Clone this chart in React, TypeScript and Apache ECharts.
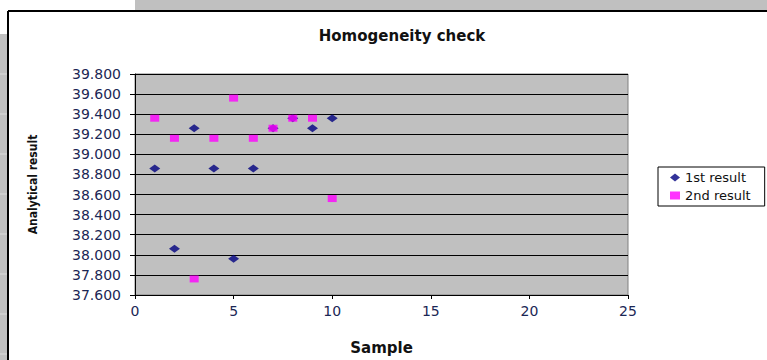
import React, { useEffect, useRef } from "react";
import * as echarts from "echarts";

// Sample numbers 1..10 and the two replicate results for each
const samples = [1, 2, 3, 4, 5, 6, 7, 8, 9, 10];
const firstResult = [38.86, 38.06, 39.26, 38.86, 37.96, 38.86, 39.26, 39.36, 39.26, 39.36];
const secondResult = [39.36, 39.16, 37.76, 39.16, 39.56, 39.16, 39.26, 39.36, 39.36, 38.56];

const seriesNames = ["1st result", "2nd result"];
const titleText = "Homogeneity check";
const xAxisName = "Sample";
const yAxisName = "Analytical result";

// Spreadsheet row lines visible along the left margin
const sheetRowLines = [74, 114, 154, 194, 234, 274, 314, 354];

const labelColor = "#1b2755";
const font = "DejaVu Sans";

export default function App() {
  const ref = useRef<HTMLDivElement>(null);

  useEffect(() => {
    if (!ref.current) return;
    const chart = echarts.init(ref.current, null, { renderer: "svg" });

    const pairs = (ys: number[]) => samples.map((s, i) => [s, ys[i]]);

    const background: any[] = [
      { type: "rect", z: -10, shape: { x: 135, y: 0, width: 632, height: 11 }, style: { fill: "#c0c0c0" } },
      { type: "rect", z: -10, shape: { x: 0, y: 34, width: 7, height: 326 }, style: { fill: "#c0c0c0" } },
      ...sheetRowLines.map((y) => ({
        type: "line",
        z: -9,
        shape: { x1: 0, y1: y, x2: 7, y2: y },
        style: { stroke: "#dcdcdc", lineWidth: 1 },
      })),
      { type: "line", z: 5, shape: { x1: 8, y1: 11, x2: 767, y2: 11 }, style: { stroke: "#000", lineWidth: 2 } },
      { type: "line", z: 5, shape: { x1: 8, y1: 11, x2: 8, y2: 360 }, style: { stroke: "#000", lineWidth: 2 } },
    ];

    chart.setOption({
      animation: false,
      backgroundColor: "#ffffff",
      title: {
        text: titleText,
        left: 397,
        top: 23,
        textAlign: "center",
        textStyle: { fontFamily: font, fontSize: 15, fontWeight: "bold", color: "#111" },
      },
      graphic: background,
      legend: {
        orient: "vertical",
        left: 658,
        top: 167,
        padding: [4, 14, 4, 12],
        itemGap: 5,
        itemWidth: 10,
        itemHeight: 8,
        borderColor: "#000",
        borderWidth: 1,
        backgroundColor: "#fff",
        textStyle: { fontFamily: font, fontSize: 13, color: "#111" },
        data: [
          { name: seriesNames[0], icon: "diamond" },
          { name: seriesNames[1], icon: "rect" },
        ],
      },
      grid: {
        left: 135,
        top: 74,
        width: 493,
        height: 227,
        show: true,
        backgroundColor: "#c0c0c0",
        borderColor: "#808080",
        borderWidth: 1,
      },
      xAxis: {
        type: "value",
        min: 0,
        max: 25,
        interval: 5,
        name: xAxisName,
        nameLocation: "middle",
        nameGap: 45,
        nameTextStyle: { fontFamily: font, fontSize: 15, fontWeight: "bold", color: "#111" },
        axisLine: { show: true, lineStyle: { color: "#000", width: 1 } },
        axisTick: { show: true, inside: false, length: 4, lineStyle: { color: "#000" } },
        axisLabel: { margin: 9, fontFamily: font, fontSize: 14, color: labelColor },
        splitLine: { show: false },
      },
      yAxis: {
        type: "value",
        min: 37.6,
        max: 39.8,
        interval: 0.2,
        name: yAxisName,
        nameLocation: "middle",
        nameGap: 96,
        nameRotate: 90,
        nameTextStyle: {
          fontFamily: "DejaVu Sans Condensed",
          fontSize: 12,
          fontWeight: "bold",
          color: "#111",
        },
        axisLine: { show: true, lineStyle: { color: "#000", width: 1 } },
        axisTick: { show: true, inside: false, length: 5, lineStyle: { color: "#000" } },
        axisLabel: {
          margin: 14,
          fontFamily: font,
          fontSize: 14,
          color: labelColor,
          formatter: (v: number) => v.toFixed(3),
        },
        splitLine: { show: true, lineStyle: { color: "#000", width: 1 } },
      },
      series: [
        {
          name: seriesNames[0],
          type: "scatter",
          symbol: "diamond",
          symbolSize: [11, 8],
          itemStyle: { color: "#000080" },
          data: pairs(firstResult),
          z: 3,
        },
        {
          name: seriesNames[1],
          type: "scatter",
          symbol: "rect",
          symbolSize: [9, 7],
          itemStyle: { color: "#ff00ff" },
          data: pairs(secondResult),
          z: 4,
        },
      ],
    });

    return () => chart.dispose();
  }, []);

  return (
    <div
      ref={ref}
      style={{ position: "fixed", left: 0, top: 0, width: 767, height: 360 }}
    />
  );
}
